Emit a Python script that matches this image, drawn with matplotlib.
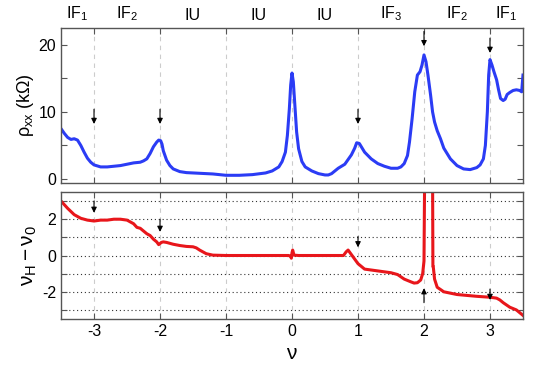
import matplotlib
matplotlib.use("Agg")
import matplotlib.pyplot as plt
import numpy as np

plt.rcParams['font.family'] = ['Liberation Sans', 'DejaVu Sans']
plt.rcParams['mathtext.fontset'] = 'custom'
plt.rcParams['mathtext.rm'] = 'Liberation Sans'
plt.rcParams['mathtext.it'] = 'Liberation Sans'
plt.rcParams['mathtext.bf'] = 'Liberation Sans:bold'

# top panel: rho_xx (kOhm) vs nu
nu_top = [-3.5, -3.45, -3.4, -3.35, -3.3, -3.25, -3.2, -3.15, -3.1, -3.05, -3.0, -2.9, -2.8, -2.7,
          -2.6, -2.5, -2.4, -2.3, -2.25, -2.2, -2.15, -2.1, -2.05, -2.02, -1.99, -1.97, -1.95,
          -1.9, -1.85, -1.8, -1.7, -1.6, -1.4, -1.2, -1.0, -0.8, -0.6, -0.4, -0.3, -0.2, -0.15,
          -0.1, -0.07, -0.04, -0.02, 0.0, 0.02, 0.04, 0.07, 0.1, 0.15, 0.2, 0.3, 0.4, 0.5, 0.55,
          0.6, 0.65, 0.7, 0.8, 0.9, 0.95, 0.98, 1.02, 1.1, 1.2, 1.3, 1.4, 1.5, 1.6, 1.65, 1.7,
          1.75, 1.78, 1.82, 1.86, 1.9, 1.94, 1.97, 2.0, 2.03, 2.06, 2.1, 2.13, 2.16, 2.2, 2.25,
          2.3, 2.4, 2.5, 2.6, 2.7, 2.8, 2.85, 2.9, 2.93, 2.96, 2.98, 3.0, 3.03, 3.06, 3.1, 3.13,
          3.16, 3.2, 3.23, 3.26, 3.3, 3.35, 3.4, 3.45, 3.48, 3.5]
rho_xx = [7.5, 6.8, 6.2, 5.9, 6.0, 5.8, 5.0, 4.0, 3.1, 2.5, 2.1, 1.8, 1.8, 1.9,
          2.0, 2.2, 2.4, 2.5, 2.7, 3.0, 3.8, 4.8, 5.5, 5.8, 5.7, 5.2, 4.2,
          2.8, 2.0, 1.5, 1.1, 0.95, 0.85, 0.75, 0.55, 0.55, 0.65, 0.9, 1.2, 1.8, 2.6,
          4.0, 6.5, 10.5, 14.0, 15.8, 14.5, 11.5, 7.0, 4.5, 2.6, 1.8, 1.2, 0.8, 0.6, 0.6,
          0.8, 1.2, 1.6, 2.2, 3.6, 4.6, 5.4, 5.3, 4.0, 3.0, 2.3, 1.9, 1.6, 1.6, 1.8, 2.3,
          3.5, 5.5, 9.0, 13.0, 15.5, 16.0, 17.0, 18.5, 17.5, 15.5, 12.5, 10.0, 8.5, 7.2, 6.0,
          4.6, 3.0, 2.0, 1.5, 1.4, 1.7, 2.1, 3.0, 5.0, 10.0, 15.5, 17.8, 17.0, 16.0, 14.8, 13.3,
          12.0, 11.7, 11.9, 12.6, 12.9, 13.2, 13.3, 13.2, 13.0, 15.5]

# bottom panel: nu_H - nu_0 vs nu
nu_bot = [-3.5, -3.4, -3.3, -3.2, -3.1, -3.0, -2.9, -2.8, -2.7, -2.6, -2.5, -2.45, -2.4, -2.35,
          -2.3, -2.25, -2.2, -2.15, -2.1, -2.05, -2.02, -1.98, -1.95, -1.9, -1.8, -1.7, -1.6,
          -1.5, -1.45, -1.4, -1.3, -1.2, -1.0, -0.5, -0.05, -0.02, -0.01, 0.0, 0.01, 0.03, 0.1,
          0.5, 0.78, 0.82, 0.85, 0.9, 0.95, 1.0, 1.1, 1.3, 1.5, 1.6, 1.7, 1.8, 1.85, 1.9, 1.95,
          1.98, 2.0, 2.01, 2.13, 2.135, 2.14, 2.16, 2.2, 2.3, 2.5, 2.8, 3.0, 3.1, 3.15, 3.2,
          3.3, 3.4, 3.5]
dnu = [3.0, 2.6, 2.25, 2.05, 1.95, 1.9, 1.95, 1.95, 2.0, 2.0, 1.95, 1.85, 1.75, 1.55,
       1.5, 1.35, 1.2, 1.1, 0.9, 0.75, 0.6, 0.72, 0.75, 0.72, 0.62, 0.55, 0.5,
       0.48, 0.42, 0.3, 0.1, 0.02, 0.0, 0.0, 0.0, -0.05, -0.15, 0.15, 0.3, 0.02, 0.0,
       0.0, 0.0, 0.2, 0.3, 0.05, -0.2, -0.45, -0.75, -0.85, -0.95, -1.05, -1.3, -1.45, -1.52, -1.5, -1.35,
       -1.0, -0.3, 4.5, 4.5, -0.6, -0.6, -1.3, -1.75, -2.0, -2.15, -2.25, -2.3, -2.35, -2.45, -2.6,
       -2.85, -3.0, -3.3]

region_pos = [-3.25, -2.5, -1.5, -0.5, 0.5, 1.5, 2.5, 3.25]
region_lbl = ['IF$_1$', 'IF$_2$', 'IU', 'IU', 'IU', 'IF$_3$', 'IF$_2$', 'IF$_1$']

top_arrows_x = [-3, -2, 1, 2, 3]
top_arrows_tail = [10.4, 10.4, 10.4, 22.0, 21.0]
top_arrows_tip = [8.2, 8.2, 8.2, 19.8, 18.8]

bot_arrows_x = [-3, -2, 1, 2, 3]
bot_arrows_tail = [3.0, 2.0, 1.05, -2.6, -1.85]
bot_arrows_tip = [2.35, 1.3, 0.45, -1.8, -2.45]

fig = plt.figure(figsize=(5.4, 3.65), dpi=100)
ax1 = fig.add_axes([0.113, 0.4986, 0.8555, 0.4244])
ax2 = fig.add_axes([0.113, 0.126, 0.8555, 0.348])

spine_c = '#555555'
for ax in (ax1, ax2):
    for s in ax.spines.values():
        s.set_color(spine_c)
        s.set_linewidth(1.0)
    ax.set_xlim(-3.5, 3.5)
    ax.set_xticks(range(-3, 4))
    for v in range(-3, 4):
        ax.axvline(v, color='#cccccc', lw=0.8, ls=(0, (4, 4)), zorder=0)
    ax.tick_params(direction='in', top=True, right=True, length=4, color=spine_c,
                   labelsize=11.5, width=0.8)

ax1.plot(nu_top, rho_xx, color='#2b3cf5', lw=2.2)
ax1.set_ylim(-0.6, 22.5)
ax1.set_yticks([0, 5, 10, 15, 20])
ax1.set_yticklabels(['0', '', '10', '', '20'])
ax1.tick_params(labelbottom=False)
ax1.set_ylabel(r'$\rho_{\rm xx}$ (k$\Omega$)', fontsize=13, labelpad=2)
for p, l in zip(region_pos, region_lbl):
    ax1.text(p, 23.3, l, ha='center', va='bottom', fontsize=11.5)
for x, t0, t1 in zip(top_arrows_x, top_arrows_tail, top_arrows_tip):
    ax1.annotate('', xy=(x, t1), xytext=(x, t0),
                 arrowprops=dict(arrowstyle='-|>', color='black', lw=0.8,
                                 mutation_scale=8, shrinkA=0, shrinkB=0))

ax2.plot(nu_bot, dnu, color='#e8161b', lw=2.2)
ax2.set_ylim(-3.5, 3.5)
ax2.set_yticks(range(-3, 4))
ax2.set_yticklabels(['', '-2', '', '0', '', '2', ''])
for v in range(-3, 4):
    ax2.axhline(v, color='#333333', lw=0.8, ls=(0, (1, 2.5)), zorder=0)
ax2.set_ylabel(r'$\nu_{\rm H} - \nu_{\rm 0}$', fontsize=15, labelpad=2)
ax2.set_xlabel(r'$\nu$', fontsize=15)
ax2.set_xticklabels(['-3', '-2', '-1', '0', '1', '2', '3'])
for x, t0, t1 in zip(bot_arrows_x, bot_arrows_tail, bot_arrows_tip):
    ax2.annotate('', xy=(x, t1), xytext=(x, t0),
                 arrowprops=dict(arrowstyle='-|>', color='black', lw=0.8,
                                 mutation_scale=8, shrinkA=0, shrinkB=0))

fig.savefig('out.png', dpi=100)
